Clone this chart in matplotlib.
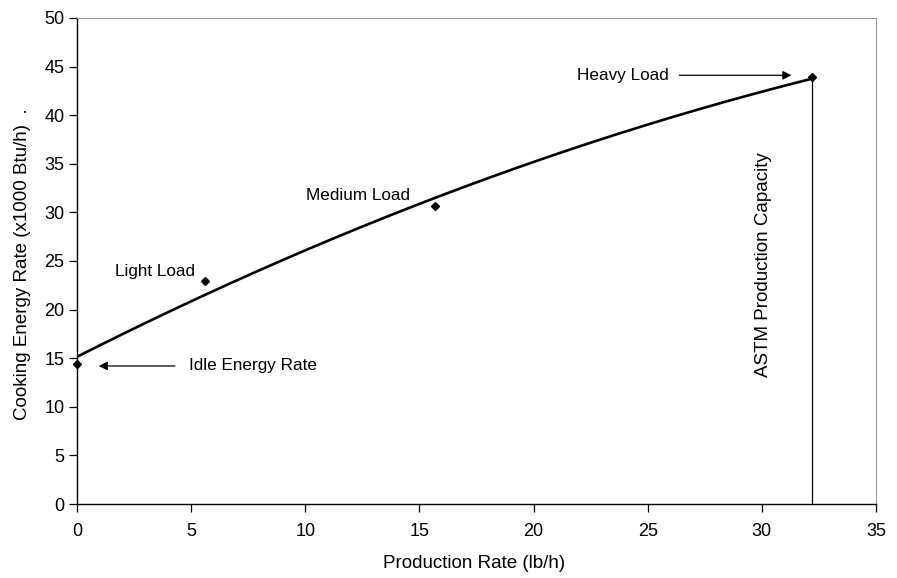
import numpy as np
import matplotlib
matplotlib.use("Agg")
import matplotlib.pyplot as plt

plt.rcParams['font.family'] = ['Liberation Sans', 'DejaVu Sans']

# Measured test points
production_rate = [0.0, 5.6, 15.7, 32.2]     # lb/h
energy_rate = [14.4, 22.9, 30.7, 43.9]        # x1000 Btu/h
point_labels = ["Idle Energy Rate", "Light Load", "Medium Load", "Heavy Load"]
capacity = 32.2

FS_NOTE = 12.3
FS_TICK = 13.0
FS_LABEL = 13.5

fig = plt.figure(figsize=(8.97, 5.78), dpi=100)
ax = fig.add_axes([0.0858, 0.128, 0.8908, 0.841])

# Second-order trend line through the load points
coef = np.polyfit(production_rate, energy_rate, 2)
xs = np.linspace(0, capacity, 200)
ax.plot(xs, np.polyval(coef, xs), color='black', lw=1.9, zorder=3)

ax.plot(production_rate, energy_rate, linestyle='none', marker='D',
        markersize=4.5, color='black', zorder=4, clip_on=False)

# Production capacity marker line
ax.plot([capacity, capacity], [0, energy_rate[3]], color='black', lw=0.9)
ax.text(30.05, 24.6, "ASTM Production Capacity", rotation=90,
        ha='center', va='center', fontsize=FS_LABEL)

# Annotations
ax.annotate(point_labels[0], xy=(0.95, 14.2), xytext=(4.9, 14.2),
            fontsize=FS_NOTE, va='center', ha='left',
            arrowprops=dict(arrowstyle='-|>', color='black', lw=0.9,
                            shrinkA=8, shrinkB=0, mutation_scale=13))
ax.text(3.4, 23.9, point_labels[1], fontsize=FS_NOTE, ha='center', va='center')
ax.text(12.3, 31.7, point_labels[2], fontsize=FS_NOTE, ha='center', va='center')
ax.annotate(point_labels[3], xy=(31.3, 44.1), xytext=(25.9, 44.1),
            fontsize=FS_NOTE, va='center', ha='right',
            arrowprops=dict(arrowstyle='-|>', color='black', lw=0.9,
                            shrinkA=6, shrinkB=0, mutation_scale=13))

ax.set_xlim(0, 35)
ax.set_ylim(0, 50)
ax.set_xticks(np.arange(0, 36, 5))
ax.set_yticks(np.arange(0, 51, 5))
ax.tick_params(direction='out', length=6, width=0.9, labelsize=FS_TICK,
               colors='black')
ax.tick_params(axis='x', pad=8)
ax.tick_params(axis='y', pad=3)
for side in ['top', 'right']:
    ax.spines[side].set_color('#999999')
for side in ['left', 'bottom']:
    ax.spines[side].set_color('black')
    ax.spines[side].set_linewidth(1.0)

ax.set_xlabel("Production Rate (lb/h)", fontsize=FS_LABEL)
ax.set_ylabel("Cooking Energy Rate (x1000 Btu/h)  .", fontsize=FS_LABEL)
ax.xaxis.set_label_coords(0.497, -0.105)
ax.yaxis.set_label_coords(-0.057, 0.494)

fig.savefig("out.png", dpi=100)
